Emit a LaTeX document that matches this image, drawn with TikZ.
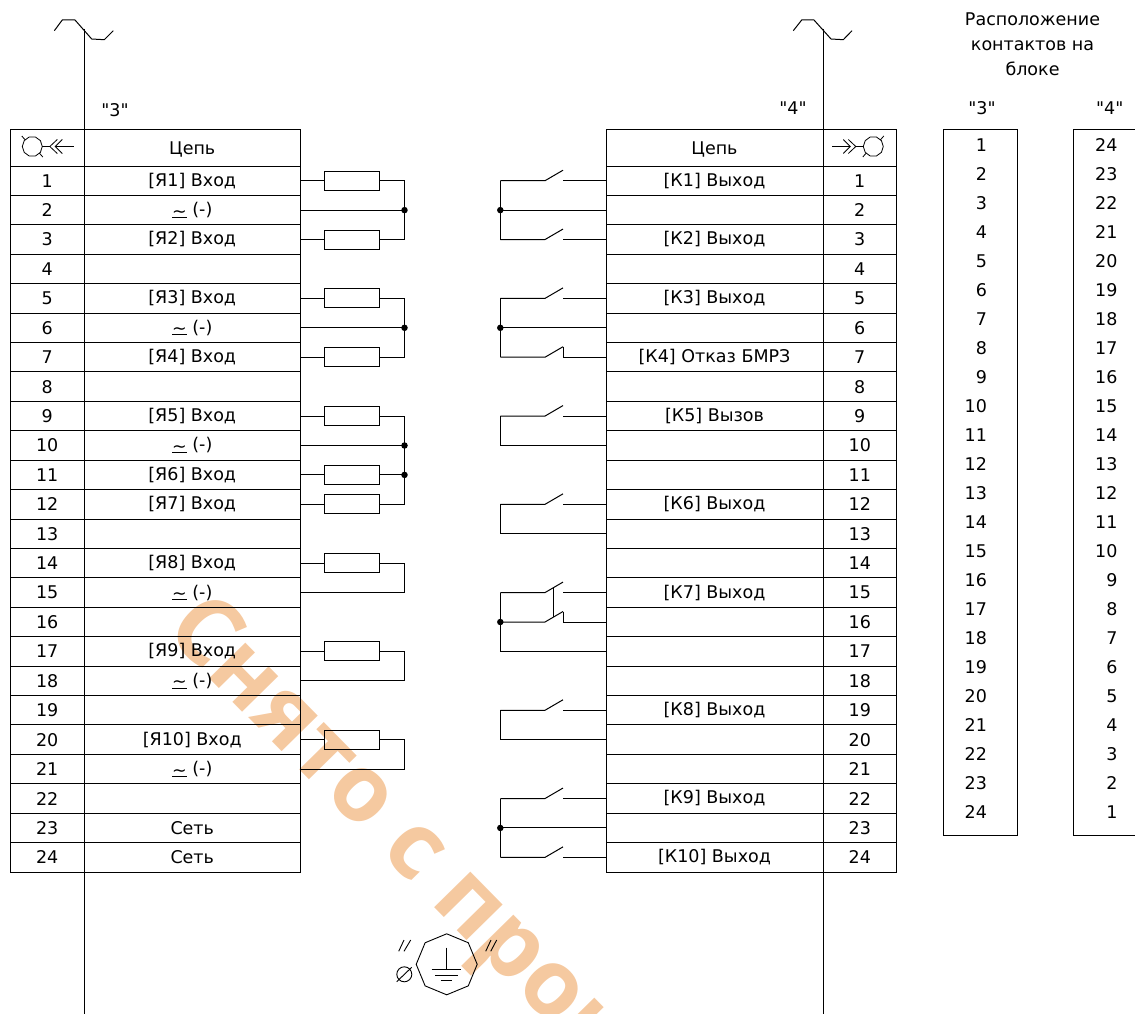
\documentclass[tikz,border=0pt]{standalone}
\usepackage{fontspec}
\setmainfont[Ligatures=TeXOff]{DejaVu Sans}
\newfontfamily\stampfont{Open Sans}
\usetikzlibrary{shapes}
\usetikzlibrary{calc}

\definecolor{stampcolor}{HTML}{F5C9A0}
\newcommand{\acsign}{\underline{\smash{\raisebox{-1.5pt}{\textasciitilde}}}}

\begin{document}
\begin{tikzpicture}[x=1pt,y=-1pt,line width=1pt,font=\fontsize{17.5}{20}\selectfont]
	 \tikzstyle{cell}=[draw,rectangle,inner sep=0pt,outer sep=0pt,minimum height=29.42pt]
	 \tikzstyle{head cell}=[cell,minimum height=36.5pt,text depth=0pt]
	 \tikzstyle{pin}=[cell,minimum width=73.5pt]
	 \tikzstyle{left name}=[cell,minimum width=216.5pt]
	 \tikzstyle{right name}=[cell,minimum width=217pt]
	 \tikzstyle{resistor}=[draw,rectangle,inner sep=0pt,outer sep=0pt,minimum width=55.5pt,minimum height=19pt]
	 \tikzstyle{dot}=[circle,fill=black,inner sep=0pt,minimum size=6.5pt]
	 \tikzstyle{label}=[inner sep=0pt]
	 \tikzstyle{block}=[draw,rectangle,inner sep=0pt,outer sep=0pt,minimum height=705.5pt]
	 \tikzstyle{wire}=[-,black,line width=1pt]

	 \useasboundingbox (0,0) rectangle (1135,1014);
	 \clip (0,0) rectangle (1135,1014);

	 % stamp goes under everything
	 \node[anchor=base west,rotate=-45.5,inner sep=0pt,text=stampcolor,font=\stampfont\bfseries\fontsize{93}{100}\selectfont] (stamp) at (163,631) {Снято с производства};

	 % main lines
	 \coordinate (top3) at (84,29);
	 \coordinate (bot3) at (84,1014);
	 \coordinate (top4) at (823,29);
	 \coordinate (bot4) at (823,1014);
	 \draw[wire] (54.3,30.7) -- (62.3,20) -- (75,20) -- (91.7,39) -- (104.3,39.7) -- (113.3,30.7);
	 \draw[wire] (793.3,30.7) -- (801.7,20) -- (814,20) -- (831,39) -- (843.3,39.7) -- (852,30.7);

	 \node[label] (name3) at (115,110) {"3"};
	 \node[label] (name4) at (793,108) {"4"};

	 % left table
	 \node[head cell,minimum width=73.5pt] (lpin0) at (47.25,147.75) {};
	 \node[head cell,minimum width=216.5pt] (lname0) at (192.25,147.75) {Цепь};
	 \foreach \n/\t in {1/{[Я1] Вход},2/{\acsign{} (-)},3/{[Я2] Вход},4/{},5/{[Я3] Вход},6/{\acsign{} (-)},
	 	7/{[Я4] Вход},8/{},9/{[Я5] Вход},10/{\acsign{} (-)},11/{[Я6] Вход},12/{[Я7] Вход},13/{},
	 	14/{[Я8] Вход},15/{\acsign{} (-)},16/{},17/{[Я9] Вход},18/{\acsign{} (-)},19/{},
	 	20/{[Я10] Вход},21/{\acsign{} (-)},22/{},23/{Сеть},24/{Сеть}}
	 {
	 	\pgfmathsetmacro{\y}{166+29.42*(\n-0.5)}
	 	\node[pin] (lpin\n) at (47.25,\y) {\n};
	 	\node[left name] (lname\n) at (192.25,\y) {\t};
	 	\coordinate (l\n) at (300.5,\y);
	 	\coordinate (jl\n) at (404.5,\y);
	 }

	 % right table
	 \node[head cell,minimum width=217pt] (rname0) at (714.5,147.75) {Цепь};
	 \node[head cell,minimum width=73.5pt] (rpin0) at (859.75,147.75) {};
	 \foreach \n/\t in {1/{[К1] Выход},2/{},3/{[К2] Выход},4/{},5/{[К3] Выход},6/{},7/{[К4] Отказ БМРЗ},8/{},
	 	9/{[К5] Вызов},10/{},11/{},12/{[К6] Выход},13/{},14/{},15/{[К7] Выход},16/{},17/{},18/{},
	 	19/{[К8] Выход},20/{},21/{},22/{[К9] Выход},23/{},24/{[К10] Выход}}
	 {
	 	\pgfmathsetmacro{\y}{166+29.42*(\n-0.5)}
	 	\node[right name] (rname\n) at (714.5,\y) {\t};
	 	\node[pin] (rpin\n) at (859.75,\y) {\n};
	 	\coordinate (r\n) at (606,\y);
	 	\coordinate (jr\n) at (500.3,\y);
	 	\coordinate (a\n) at (545,\y);
	 	\coordinate (b\n) at (563,\y);
	 	\pgfmathsetmacro{\yy}{\y-10.5}
	 	\coordinate (t\n) at (563,\yy);
	 }

	 % connector signs in the head cells
	 \foreach \s/\x/\m in {l/32.3/1,r/873.3/-1}
	 {
	 	\begin{scope}[shift={(\x,146.5)},xscale=\m,line width=0.8pt]
	 		\node[draw,regular polygon,regular polygon sides=10,minimum size=20pt,inner sep=0pt,outer sep=0pt] (\s sign) at (0,0) {};
	 		\draw (-10.5,-10.5) -- (-7,-6.5);
	 		\draw (7,6.5) -- (10.5,10.5);
	 		\draw (\s sign) -- (17.5,0);
	 		\draw (25,-7) -- (17.5,0) -- (25,7);
	 		\draw (30,-7) -- (23,0) -- (30,7);
	 		\draw (23,0) -- (41.5,0);
	 	\end{scope}
	 }

	 % resistors
	 \foreach \n in {1,3,5,7,9,11,12,14,17,20}
	 {
	 	\pgfmathsetmacro{\y}{166+29.42*(\n-0.5)}
	 	\node[resistor] (R\n) at (352.2,\y) {};
	 	\draw[wire] (l\n) -- (R\n) -- (jl\n);
	 }

	 \draw[wire] (jl1) -- (jl3);
	 \draw[wire] (l2) -- (jl2);
	 \node[dot] (jd2) at (jl2) {};
	 \draw[wire] (jl5) -- (jl7);
	 \draw[wire] (l6) -- (jl6);
	 \node[dot] (jd6) at (jl6) {};
	 \draw[wire] (jl9) -- (jl12);
	 \draw[wire] (l10) -- (jl10);
	 \node[dot] (jd10) at (jl10) {};
	 \node[dot] (jd11) at (jl11) {};
	 \draw[wire] (jl14) -- (jl15) -- (l15);
	 \draw[wire] (jl17) -- (jl18) -- (l18);
	 \draw[wire] (jl20) -- (jl21) -- (l21);

	 % contacts
	 \foreach \n in {1,3,5,7,9,12,15,16,19,22,24}
	 {
	 	\draw[wire] (jr\n) -- (a\n) -- (t\n);
	 	\draw[wire] (b\n) -- (r\n);
	 }
	 \draw[wire] (t7) -- (b7);
	 \draw[wire] (t16) -- (b16);
	 \draw[wire] ($(a15)!0.46!(t15)$) -- ($(a16)!0.46!(t16)$);

	 \draw[wire] (jr1) -- (jr3);
	 \draw[wire] (jr2) -- (r2);
	 \node[dot] (kd2) at (jr2) {};
	 \draw[wire] (jr5) -- (jr7);
	 \draw[wire] (jr6) -- (r6);
	 \node[dot] (kd6) at (jr6) {};
	 \draw[wire] (jr9) -- (jr10) -- (r10);
	 \draw[wire] (jr12) -- (jr13) -- (r13);
	 \draw[wire] (jr15) -- (jr17) -- (r17);
	 \node[dot] (kd16) at (jr16) {};
	 \draw[wire] (jr19) -- (jr20) -- (r20);
	 \draw[wire] (jr22) -- (jr24);
	 \draw[wire] (jr23) -- (r23);
	 \node[dot] (kd23) at (jr23) {};

	 \draw[wire] (top3) -- (bot3);
	 \draw[wire] (top4) -- (bot4);

	 % ground point
	 \node[draw,regular polygon,regular polygon sides=8,shape border rotate=22.5,minimum size=61pt,inner sep=0pt,line width=0.9pt] (gnd) at (446.7,964.3) {};
	 \begin{scope}[line width=0.9pt]
	 	\draw (446.7,947.7) -- (446.7,969.5);
	 	\draw (431.7,969.7) -- (461,969.7);
	 	\draw (435,975.2) -- (457.7,975.2);
	 	\draw (440.7,980.7) -- (452,980.7);
	 	\draw (398.7,951.3) -- (404,940);
	 	\draw (404,951.3) -- (410.7,940);
	 	\draw (485.7,951.3) -- (491,940);
	 	\draw (490.7,951.3) -- (496.7,940);
	 	\node[draw,circle,minimum size=15pt,inner sep=0pt] (dia) at (404.3,974.3) {};
	 	\draw (396.7,981.7) -- (411.7,967.3);
	 \end{scope}

	 % contact layout
	 \node[label,align=center,font=\fontsize{17.5}{25}\selectfont] (layout) at (1032.5,44.5) {Расположение\\контактов на\\блоке};
	 \node[label] (name3b) at (982,108) {"3"};
	 \node[label] (name4b) at (1109.7,108) {"4"};
	 \node[block,minimum width=74pt] (block3) at (980,482.25) {};
	 \node[block,minimum width=74pt] (block4) at (1110.5,482.25) {};
	 \foreach \n [evaluate=\n as \m using int(25-\n)] in {1,...,24}
	 {
	 	\pgfmathsetmacro{\y}{145+29*(\n-1)}
	 	\node[label,anchor=east] (c\n) at (987.5,\y) {\n};
	 	\node[label,anchor=east] (d\n) at (1118,\y) {\m};
	 }
\end{tikzpicture}
\end{document}
